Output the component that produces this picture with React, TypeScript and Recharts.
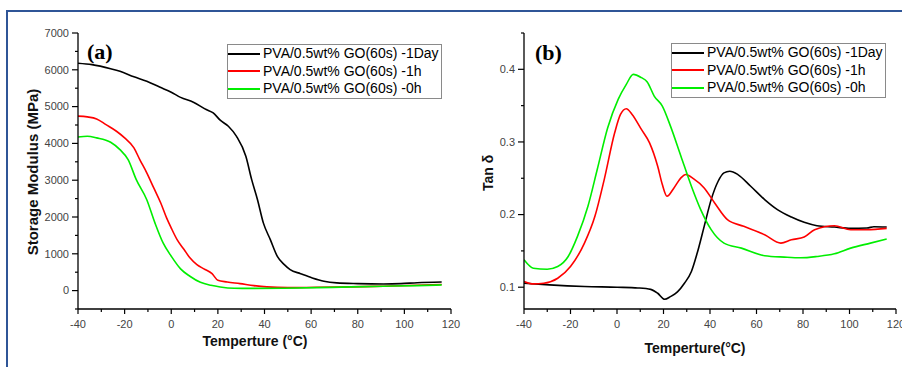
import React from 'react';
import { LineChart, Line, XAxis, YAxis, Legend } from 'recharts';

// ---------- Panel (a): Storage modulus (MPa) ----------
const modDayT = [-40, -34, -26, -22, -16, -10.5, -5, 0, 4, 9.5, 15, 18, 21, 24.5, 28, 32, 34.5, 37, 39.5, 42.5, 45.5, 48.5, 51, 55.5, 60.5, 65.5, 71, 80, 91, 98.5, 105.5, 116];
const modDayV = [6180, 6140, 6030, 5960, 5810, 5690, 5530, 5390, 5250, 5120, 4920, 4830, 4630, 4465, 4190, 3650, 3015, 2470, 1840, 1385, 930, 705, 570, 460, 345, 255, 210, 190, 180, 190, 215, 235];

const mod1hT = [-40, -36, -32, -28, -23.5, -20, -16, -13.5, -10.5, -7.5, -4.5, -2, 0, 2.5, 5.5, 8, 11, 14, 17.5, 20, 24, 29.5, 35.5, 41, 50, 62.5, 77, 91, 105.5, 116];
const mod1hV = [4740, 4720, 4665, 4510, 4330, 4150, 3880, 3560, 3200, 2790, 2380, 1975, 1700, 1385, 1115, 890, 705, 590, 460, 280, 235, 190, 135, 100, 80, 90, 100, 120, 145, 165];

const mod0hT = [-40, -36, -32, -26, -22, -18.5, -15, -10.5, -7, -3.5, 0, 4, 8, 12.5, 17, 21, 27, 34, 48, 62.5, 77, 91, 105.5, 116];
const mod0hV = [4175, 4195, 4150, 4030, 3830, 3560, 3015, 2470, 1840, 1295, 935, 590, 390, 225, 145, 100, 65, 60, 65, 80, 100, 120, 135, 155];

// ---------- Panel (b): Tan delta ----------
const tanDayT = [-40, -29, -14, 0, 9, 14.5, 17.5, 20.5, 23, 26, 29, 32, 34.5, 37.5, 40.5, 43.5, 46, 48.5, 52, 57.5, 63.5, 69, 75, 80.5, 86, 93.5, 100.5, 107.5, 110.5, 116];
const tanDayV = [0.1055, 0.1032, 0.101, 0.1, 0.099, 0.097, 0.0917, 0.0834, 0.0871, 0.0935, 0.1055, 0.1216, 0.147, 0.1838, 0.2206, 0.2459, 0.2574, 0.2597, 0.2551, 0.239, 0.2206, 0.2068, 0.1966, 0.1893, 0.1847, 0.1828, 0.181, 0.1815, 0.1833, 0.1828];

const tan1hT = [-40, -36, -31.5, -25.5, -20, -14, -9.5, -5.5, -1, 1.5, 4, 6.5, 10.5, 14, 17.5, 19.5, 21.5, 24.5, 27.5, 29.5, 33, 37.5, 42, 47.5, 54.5, 63.5, 70.5, 75, 80.5, 85, 93.5, 100.5, 107.5, 116];
const tan1hV = [0.1078, 0.1046, 0.1055, 0.1124, 0.1285, 0.1607, 0.1976, 0.2482, 0.3126, 0.3379, 0.3457, 0.3379, 0.3172, 0.2988, 0.2666, 0.2413, 0.2252, 0.2367, 0.2505, 0.2551, 0.2491, 0.2367, 0.216, 0.193, 0.1838, 0.1722, 0.1607, 0.1653, 0.169, 0.1792, 0.1847, 0.1792, 0.1792, 0.181];

const tan0hT = [-40, -36, -30, -25.5, -21, -17, -12.5, -8.5, -4, 0.5, 4, 7, 10.5, 13, 16, 19.5, 23, 27.5, 32, 36, 40.5, 46, 53.5, 63.5, 72, 79, 86, 93.5, 100.5, 109, 116];
const tan0hV = [0.1377, 0.1262, 0.1248, 0.1285, 0.1423, 0.17, 0.2114, 0.262, 0.3195, 0.3586, 0.3793, 0.3931, 0.3885, 0.3826, 0.3632, 0.3494, 0.3218, 0.2804, 0.239, 0.2068, 0.1792, 0.1607, 0.1538, 0.1433, 0.1414, 0.1405, 0.1423, 0.146, 0.1538, 0.1607, 0.1663];

// ---------- Labels / ticks ----------
const seriesNames = ['PVA/0.5wt% GO(60s) -1Day', 'PVA/0.5wt% GO(60s) -1h', 'PVA/0.5wt% GO(60s) -0h'];
const seriesColors = ['#000000', '#ff0000', '#00ee00'];
const tempTicks = [-40, -30, -20, -10, 0, 10, 20, 30, 40, 50, 60, 70, 80, 90, 100, 110, 120];
const modTicks = [-500, 0, 500, 1000, 1500, 2000, 2500, 3000, 3500, 4000, 4500, 5000, 5500, 6000, 6500, 7000];
const tanTicks = [0.1, 0.15, 0.2, 0.25, 0.3, 0.35, 0.4, 0.45];

const zip = (t: number[], v: number[]) => t.map((x, i) => ({ t: x, v: v[i] }));

const FONT = '"Liberation Sans", Arial, sans-serif';

const XTick = (props: any) => {
  const { x, y, payload } = props;
  const major = payload.value % 20 === 0;
  return (
    <g>
      <line x1={x} x2={x} y1={y} y2={y + (major ? 5 : 3)} stroke="#000" strokeWidth={1.2} />
      {major && (
        <text x={x} y={y + 19} textAnchor="middle" fontSize={11} fontFamily={FONT} fill="#444">
          {payload.value}
        </text>
      )}
    </g>
  );
};

const makeYTick = (isMajor: (v: number) => boolean, fmt: (v: number) => string, showLabel: (v: number) => boolean) => (props: any) => {
  const { x, y, payload } = props;
  const major = isMajor(payload.value);
  return (
    <g>
      <line x1={x} x2={x - (major ? 6 : 3)} y1={y} y2={y} stroke="#000" strokeWidth={1.2} />
      {major && showLabel(payload.value) && (
        <text x={x - 9} y={y} dy="0.35em" textAnchor="end" fontSize={11} fontFamily={FONT} fill="#444">
          {fmt(payload.value)}
        </text>
      )}
    </g>
  );
};

const ModTick = makeYTick((v) => v % 1000 === 0, (v) => String(v), (v) => v >= 0);
const TanTick = makeYTick(
  (v) => Math.abs(Math.round(v * 10) - v * 10) < 1e-6,
  (v) => (Math.round(v * 10) / 10).toFixed(1),
  (v) => v < 0.44
);

const LegendBox = (props: any) => {
  const items = [...(props.payload || [])].sort(
    (a: any, b: any) => seriesNames.indexOf(a.value) - seriesNames.indexOf(b.value)
  );
  return (
    <div
      style={{
        border: '1px solid #8a8a8a',
        background: '#fff',
        fontFamily: FONT,
        fontSize: 14,
        lineHeight: '17.5px',
        color: '#000',
        width: 215,
        boxSizing: 'border-box',
        whiteSpace: 'nowrap',
      }}
    >
      {items.map((p: any, i: number) => (
        <div key={i} style={{ display: 'flex', alignItems: 'center', height: 17.5 }}>
          <span style={{ display: 'inline-block', width: 32, borderTop: `2px solid ${p.color}`, marginRight: 3 }} />
          <span>{p.value}</span>
        </div>
      ))}
    </div>
  );
};

const axisLine = { stroke: '#000', strokeWidth: 1.3 };

export default function App() {
  const modSeries = [zip(modDayT, modDayV), zip(mod1hT, mod1hV), zip(mod0hT, mod0hV)];
  const tanSeries = [zip(tanDayT, tanDayV), zip(tan1hT, tan1hV), zip(tan0hT, tan0hV)];

  return (
    <div style={{ position: 'absolute', left: 0, top: 0, width: 902, height: 367, background: '#fff', overflow: 'hidden' }}>
      {/* outer blue frame */}
      <div
        style={{
          position: 'absolute',
          left: 6,
          top: 10,
          width: 1000,
          height: 400,
          borderTop: '2px solid #2f5597',
          borderLeft: '2px solid #2f5597',
        }}
      />

      {/* Panel (a) */}
      <div style={{ position: 'absolute', left: 0, top: 0 }}>
        <LineChart width={470} height={367} margin={{ top: 33, right: 19, bottom: 0, left: 0 }}>
          <XAxis
            xAxisId="b"
            type="number"
            dataKey="t"
            domain={[-40, 120]}
            ticks={tempTicks}
            interval={0}
            allowDataOverflow
            height={58}
            tickSize={0}
            tickMargin={0}
            tickLine={false}
            axisLine={axisLine}
            tick={<XTick />}
          />
          <XAxis xAxisId="top" orientation="top" type="number" domain={[-40, 120]} height={0} tick={false} tickLine={false} axisLine={axisLine} />
          <YAxis
            yAxisId="l"
            type="number"
            domain={[-500, 7000]}
            ticks={modTicks}
            interval={0}
            allowDataOverflow
            width={78}
            tickSize={0}
            tickMargin={0}
            tickLine={false}
            axisLine={axisLine}
            tick={<ModTick />}
          />
          <YAxis yAxisId="r" orientation="right" type="number" domain={[-500, 7000]} width={0} tick={false} tickLine={false} axisLine={axisLine} />
          {modSeries.map((d, i) => (
            <Line
              key={i}
              xAxisId="b"
              yAxisId="l"
              data={d}
              dataKey="v"
              name={seriesNames[i]}
              stroke={seriesColors[i]}
              strokeWidth={1.6}
              dot={false}
              type="monotone"
              isAnimationActive={false}
            />
          ))}
          <Legend
            layout="vertical"
            align="center"
            verticalAlign="middle"
            content={<LegendBox />}
            wrapperStyle={{ left: 227, top: 44, width: 216 }}
          />
        </LineChart>
      </div>

      {/* Panel (b) */}
      <div style={{ position: 'absolute', left: 452, top: 0 }}>
        <LineChart width={450} height={367} margin={{ top: 33, right: 6, bottom: 0, left: 0 }}>
          <XAxis
            xAxisId="b"
            type="number"
            dataKey="t"
            domain={[-40, 120]}
            ticks={tempTicks}
            interval={0}
            allowDataOverflow
            height={58}
            tickSize={0}
            tickMargin={0}
            tickLine={false}
            axisLine={axisLine}
            tick={<XTick />}
          />
          <XAxis xAxisId="top" orientation="top" type="number" domain={[-40, 120]} height={0} tick={false} tickLine={false} axisLine={axisLine} />
          <YAxis
            yAxisId="l"
            type="number"
            domain={[0.07, 0.45]}
            ticks={tanTicks}
            interval={0}
            allowDataOverflow
            width={72}
            tickSize={0}
            tickMargin={0}
            tickLine={false}
            axisLine={axisLine}
            tick={<TanTick />}
          />
          <YAxis yAxisId="r" orientation="right" type="number" domain={[0.07, 0.45]} width={0} tick={false} tickLine={false} axisLine={axisLine} />
          {tanSeries.map((d, i) => (
            <Line
              key={i}
              xAxisId="b"
              yAxisId="l"
              data={d}
              dataKey="v"
              name={seriesNames[i]}
              stroke={seriesColors[i]}
              strokeWidth={1.6}
              dot={false}
              type="monotone"
              isAnimationActive={false}
            />
          ))}
          <Legend
            layout="vertical"
            align="center"
            verticalAlign="middle"
            content={<LegendBox />}
            wrapperStyle={{ left: 219, top: 43, width: 217 }}
          />
        </LineChart>
      </div>

      {/* titles and panel labels */}
      <svg width={902} height={367} style={{ position: 'absolute', left: 0, top: 0, pointerEvents: 'none' }}>
        <text x={87} y={59} fontFamily='"Liberation Serif", "Times New Roman", serif' fontWeight="bold" fontSize={22} fill="#000">(a)</text>
        <text x={535} y={60} fontFamily='"Liberation Serif", "Times New Roman", serif' fontWeight="bold" fontSize={22} fill="#000">(b)</text>
        <text transform="translate(38,172) rotate(-90)" textAnchor="middle" fontFamily={FONT} fontWeight="bold" fontSize={15} fill="#111">Storage Modulus (MPa)</text>
        <text transform="translate(493,173) rotate(-90)" textAnchor="middle" fontFamily={FONT} fontWeight="bold" fontSize={14} fill="#111">Tan δ</text>
        <text x={255} y={346} textAnchor="middle" fontFamily={FONT} fontWeight="bold" fontSize={14} fill="#111">Temperture (°C)</text>
        <text x={695} y={353} textAnchor="middle" fontFamily={FONT} fontWeight="bold" fontSize={14} fill="#111">Temperture(°C)</text>
      </svg>
    </div>
  );
}
